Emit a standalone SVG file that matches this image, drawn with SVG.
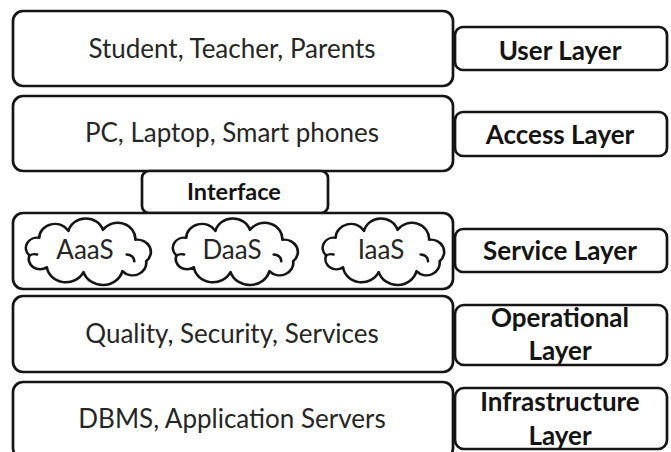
<svg xmlns="http://www.w3.org/2000/svg" width="671" height="452" viewBox="0 0 671 452">
  <style>
    .box { fill: #ffffff; stroke: #151515; stroke-width: 2.7; }
    .cloud { fill: #ffffff; stroke: #151515; stroke-width: 2.5; stroke-linejoin: round; }
    .curl { fill: none; stroke: #151515; stroke-width: 2.5; stroke-linecap: round; }
    .main { font-family: Lato, "Liberation Sans", sans-serif; font-size: 26px; fill: #262626; text-anchor: middle; }
    .label { font-family: Lato, "Liberation Sans", sans-serif; font-size: 26px; font-weight: bold; fill: #141414; text-anchor: middle; }
  </style>
  <defs>
    <!-- cloud outline centred on (0,0) -->
    <g id="cloudShape">
      <path class="cloud" d="M-56,4 A10.5,10.5 0 0 1 -47,-14 A14.5,14.5 0 0 1 -20,-21 A16.6,16.6 0 0 1 12,-22 A16.4,16.4 0 0 1 42,-12 A12.6,12.6 0 0 1 52,10 A12.6,12.6 0 0 1 30,20 A18.7,18.7 0 0 1 -6,21 A17.9,17.9 0 0 1 -40,16 A10.4,10.4 0 0 1 -56,4 Z"/>
      <path class="curl" d="M-56,4 Q-53,2 -49,3"/>
      <path class="curl" d="M34,3 A7,7 0 0 1 41,10"/>
    </g>
  </defs>

  <rect width="671" height="452" fill="#ffffff"/>

  <g id="connectors"></g>

  <!-- User layer -->
  <g id="user">
    <rect class="box" x="13" y="11" width="440" height="75" rx="10"/>
    <text class="main" x="232" y="58">Student, Teacher, Parents</text>
  </g>
  <g id="user-label">
    <rect class="box" x="455" y="27" width="212" height="43" rx="8"/>
    <text class="label" x="560" y="60">User Layer</text>
  </g>

  <!-- Access layer -->
  <g id="access">
    <rect class="box" x="13" y="96" width="440" height="75" rx="10"/>
    <text class="main" x="232" y="142">PC, Laptop, Smart phones</text>
  </g>
  <g id="access-label">
    <rect class="box" x="455" y="112" width="212" height="44" rx="8"/>
    <text class="label" x="560" y="144">Access Layer</text>
  </g>

  <!-- Interface -->
  <g id="interface">
    <rect class="box" x="142" y="171" width="186" height="42" rx="7"/>
    <text class="label" x="234" y="200" style="font-size:23.5px">Interface</text>
  </g>

  <!-- Service layer -->
  <g id="service">
    <rect class="box" x="13" y="213" width="440" height="76" rx="10"/>
  </g>
  <g id="aaas">
    <use href="#cloudShape" transform="translate(90,251.5) scale(1.08,0.98)"/>
    <text class="main" x="85" y="259">AaaS</text>
  </g>
  <g id="daas">
    <use href="#cloudShape" transform="translate(237,251.5) scale(1.08,0.98)"/>
    <text class="main" x="232" y="259">DaaS</text>
  </g>
  <g id="iaas">
    <use href="#cloudShape" transform="translate(385,251.5) scale(1.05,0.98)"/>
    <text class="main" x="381" y="259">IaaS</text>
  </g>
  <g id="service-label">
    <rect class="box" x="455" y="229" width="212" height="43" rx="8"/>
    <text class="label" x="560" y="260">Service Layer</text>
  </g>

  <!-- Operational layer -->
  <g id="operational">
    <rect class="box" x="13" y="296" width="440" height="76" rx="10"/>
    <text class="main" x="232" y="343">Quality, Security, Services</text>
  </g>
  <g id="operational-label">
    <rect class="box" x="455" y="305" width="212" height="60" rx="9"/>
    <text class="label" x="560" y="327">Operational</text>
    <text class="label" x="560" y="360">Layer</text>
  </g>

  <!-- Infrastructure layer -->
  <g id="infrastructure">
    <rect class="box" x="13" y="382" width="440" height="76" rx="10"/>
    <text class="main" x="232" y="428">DBMS, Application Servers</text>
  </g>
  <g id="infrastructure-label">
    <rect class="box" x="455" y="388" width="212" height="61" rx="9"/>
    <text class="label" x="560" y="411">Infrastructure</text>
    <text class="label" x="560" y="445">Layer</text>
  </g>
</svg>
